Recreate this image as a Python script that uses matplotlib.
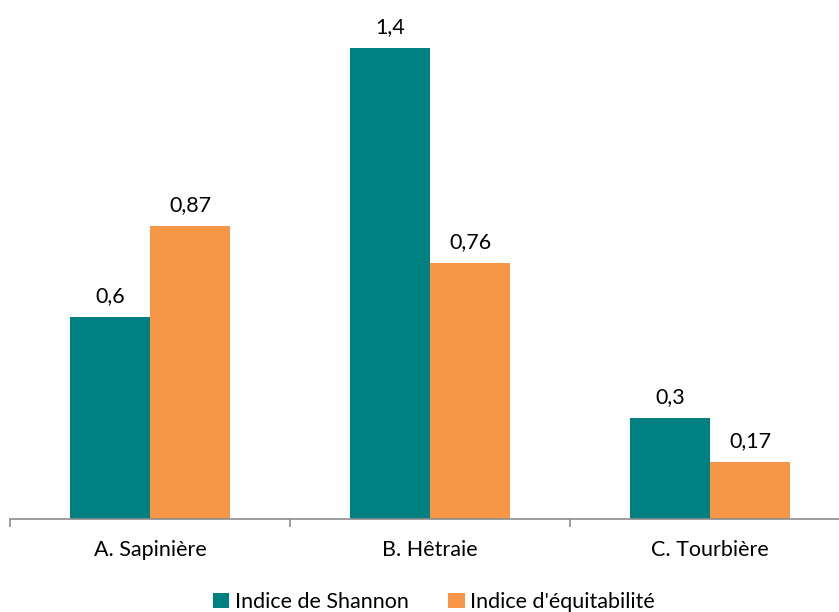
import matplotlib
matplotlib.use("Agg")
import matplotlib.pyplot as plt
import numpy as np
from matplotlib.patches import Patch

categories = ["A. Sapinière", "B. Hêtraie", "C. Tourbière"]
shannon = [0.6, 1.4, 0.3]
equitabilite = [0.87, 0.76, 0.17]
series_names = ["Indice de Shannon", "Indice d'équitabilité"]
colors = ["#008080", "#F79646"]

plt.rcParams["font.family"] = ["Lato", "DejaVu Sans"]

W, H = 839, 612
fig = plt.figure(figsize=(W / 100, H / 100), dpi=100)
base_px = 519
top_px = 48
ax = fig.add_axes([10 / W, (H - base_px) / H, 840 / W, base_px / H])

x = np.arange(len(categories))
bw = 0.286
ymax = max(shannon) * base_px / (base_px - top_px)
fs = 15.5

for vals, off, col in [(shannon, -bw / 2, colors[0]), (equitabilite, bw / 2, colors[1])]:
    bars = ax.bar(x + off, vals, width=bw, color=col, edgecolor="none", zorder=2)
    for b, v in zip(bars, vals):
        ax.annotate(f"{v:g}".replace(".", ","), (b.get_x() + b.get_width() / 2, v),
                    xytext=(0, 8), textcoords="offset points", ha="center", va="bottom",
                    fontsize=fs, color="#000000")

ax.set_xlim(-0.5, 2.5)
ax.set_ylim(0, ymax)
ax.set_yticks([])
for s in ["top", "right", "left"]:
    ax.spines[s].set_visible(False)
ax.spines["bottom"].set_color("#8c8c8c")
ax.spines["bottom"].set_linewidth(1.2)
ax.set_xticks([-0.5, 0.5, 1.5, 2.5])
ax.set_xticklabels([])
ax.tick_params(axis="x", length=6, width=1.2, color="#8c8c8c", direction="out")
for xi, c in zip(x, categories):
    ax.text(xi, -31 / base_px * ymax, c, ha="center", va="center", fontsize=fs, color="#000000")

handles = [Patch(facecolor=c, edgecolor="none") for c in colors]
fig.legend(handles, series_names, loc="center", bbox_to_anchor=(434 / W, 1 - 602 / H),
           ncol=2, frameon=False, fontsize=fs, handlelength=0.75, handleheight=0.75,
           handletextpad=0.25, columnspacing=1.85, borderaxespad=0)

fig.savefig("out.png", dpi=100)
